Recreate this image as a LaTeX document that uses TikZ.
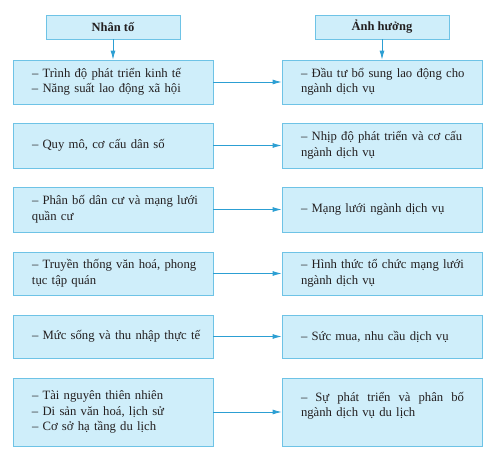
\documentclass[tikz,border=0pt]{standalone}
\usepackage{fontspec}
\setmainfont{Liberation Serif}
\usetikzlibrary{arrows.meta}
\definecolor{boxfill}{HTML}{CFEEFA}
\definecolor{boxline}{HTML}{6EC3E6}
\definecolor{arrowcol}{HTML}{2C9FD3}
\definecolor{ink}{HTML}{231F20}
\tikzset{
  hdr/.style={draw=boxline, fill=boxfill, line width=0.8pt, minimum width=134pt,
    minimum height=24pt, inner sep=0pt, text=ink, font=\fontsize{12.5}{14}\selectfont\bfseries},
  cell/.style={draw=boxline, fill=boxfill, line width=0.8pt, minimum width=200pt,
    inner sep=0pt, text width=181pt, align=left, text=ink,
    font=\fontsize{12.7}{15.5}\selectfont, execute at begin node={\leftskip=9.5pt}},
  link/.style={draw=arrowcol, line width=0.8pt, -{Latex[length=9pt,width=5pt]}}
}
\begin{document}
\begin{tikzpicture}[x=1pt,y=-1pt]
\useasboundingbox (0,0) rectangle (493,455);
\node[hdr] (hf) at (113,27) {Nhân tố};
\node[hdr] (he) at (382,27) {Ảnh hưởng};
\node[cell, minimum height=44pt] (f1) at (113,82) {– Trình độ phát triển kinh tế\\– Năng suất lao động xã hội};
\node[cell, minimum height=44pt] (e1) at (382,82) {– Đầu tư bổ sung lao động cho\\ngành dịch vụ};
\node[cell, minimum height=45pt] (f2) at (113,145.5) {– Quy mô, cơ cấu dân số};
\node[cell, minimum height=45pt] (e2) at (382,145.5) {– Nhịp độ phát triển và cơ cấu\\ngành dịch vụ};
\node[cell, minimum height=45pt] (f3) at (113,209.5) {– Phân bố dân cư và mạng lưới\\quần cư};
\node[cell, minimum height=45pt] (e3) at (382,209.5) {– Mạng lưới ngành dịch vụ};
\node[cell, minimum height=43pt] (f4) at (113,273.5) {– Truyền thống văn hoá, phong\\tục tập quán};
\node[cell, minimum height=43pt] (e4) at (382,273.5) {– Hình thức tổ chức mạng lưới\\ngành dịch vụ};
\node[cell, minimum height=43pt] (f5) at (113,336.5) {– Mức sống và thu nhập thực tế};
\node[cell, minimum height=43pt] (e5) at (382,336.5) {– Sức mua, nhu cầu dịch vụ};
\node[cell, minimum height=68pt] (f6) at (113,412) {– Tài nguyên thiên nhiên\\– Di sản văn hoá, lịch sử\\– Cơ sở hạ tầng du lịch};
\node[cell, minimum height=68pt] (e6) at (382,412) {\hbox to 163pt{–\hfill Sự\hfill phát\hfill triển\hfill và\hfill phân\hfill bố}\\ngành dịch vụ du lịch\\\mbox{}};
\draw[link] (hf) -- (f1);
\draw[link] (he) -- (e1);
\foreach \i in {1,...,6}
  \draw[link] (f\i) -- (e\i);
\end{tikzpicture}
\end{document}
